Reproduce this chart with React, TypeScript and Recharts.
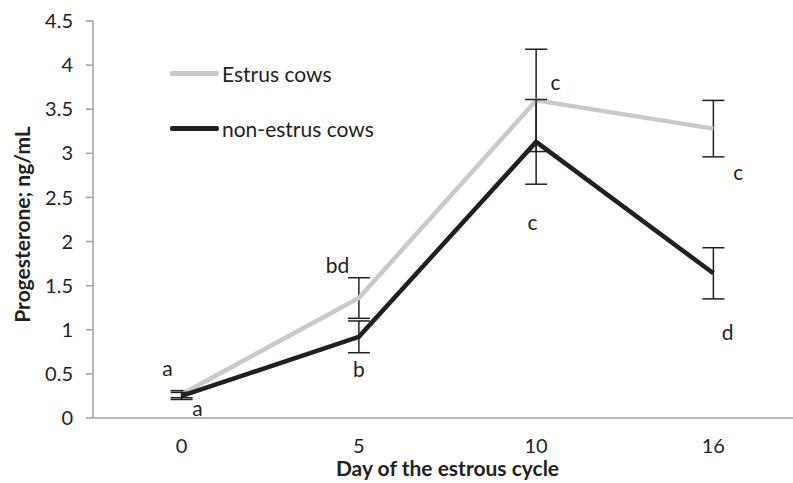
import React from 'react';
import { LineChart, Line, XAxis, YAxis, ErrorBar, ReferenceDot } from 'recharts';

const days = ['0', '5', '10', '16'];
const estrus = [0.27, 1.36, 3.6, 3.28];
const estrusErr = [0.04, 0.23, 0.58, 0.32];
const nonEstrus = [0.25, 0.92, 3.13, 1.64];
const nonEstrusErr = [0.04, 0.18, 0.48, 0.29];
const yTicks = [0, 0.5, 1, 1.5, 2, 2.5, 3, 3.5, 4, 4.5];
const bandEdges = [-0.5, 0.5, 1.5, 2.5, 3.5];
const centers = [0, 1, 2, 3];

// significance letters: [category index position, value level, text]
const letters: { x: number; y: number; t: string }[] = [
  { x: -0.08, y: 0.56, t: 'a' },
  { x: 0.09, y: 0.11, t: 'a' },
  { x: 0.88, y: 1.73, t: 'bd' },
  { x: 1.0, y: 0.55, t: 'b' },
  { x: 2.11, y: 3.8, t: 'c' },
  { x: 1.98, y: 2.21, t: 'c' },
  { x: 3.14, y: 2.78, t: 'c' },
  { x: 3.08, y: 0.97, t: 'd' },
];

const data = days.map((d, i) => ({
  idx: i,
  day: d,
  estrus: estrus[i],
  estrusErr: estrusErr[i],
  nonEstrus: nonEstrus[i],
  nonEstrusErr: nonEstrusErr[i],
}));

const FONT = 'Lato, "Open Sans", sans-serif';
const GRAY = '#C8C9CA';
const BLACK = '#231F20';
const AXIS = '#A0A0A0';

const LegendOverlay = () => (
  <div style={{ position: 'absolute', left: 170, top: 58, fontFamily: FONT, fontSize: 21, color: BLACK }}>
    <div style={{ display: 'flex', alignItems: 'center', height: 30 }}>
      <div style={{ width: 49, height: 5, background: GRAY, borderRadius: 2, marginRight: 3 }} />
      <span>Estrus cows</span>
    </div>
    <div style={{ display: 'flex', alignItems: 'center', height: 30, marginTop: 25 }}>
      <div style={{ width: 49, height: 5, background: BLACK, borderRadius: 2, marginRight: 3 }} />
      <span>non-estrus cows</span>
    </div>
  </div>
);

export default function App() {
  return (
    <div
      style={{
        position: 'absolute',
        left: 0,
        top: 0,
        width: 793,
        height: 483,
        overflow: 'hidden',
        background: '#fff',
      }}
    >
      <LineChart width={812} height={483} data={data} margin={{ top: 21, right: 10, left: 0, bottom: 0 }}>
        <XAxis
          xAxisId="a"
          dataKey="idx"
          type="number"
          domain={[-0.5, 3.5]}
          ticks={bandEdges}
          tick={false}
          tickSize={7}
          height={1}
          axisLine={{ stroke: AXIS, strokeWidth: 1.5 }}
          tickLine={{ stroke: AXIS, strokeWidth: 1.5 }}
          allowDataOverflow
        />
        <XAxis
          xAxisId="b"
          dataKey="idx"
          type="number"
          domain={[-0.5, 3.5]}
          ticks={centers}
          tickFormatter={(v: number) => days[v]}
          axisLine={false}
          tickLine={false}
          tickSize={0}
          tickMargin={20}
          height={64}
          tick={{ fontFamily: FONT, fontSize: 20, fill: BLACK }}
          label={{
            value: 'Day of the estrous cycle',
            position: 'insideBottom',
            offset: 7,
            style: { fontFamily: FONT, fontSize: 21, fontWeight: 700, fill: BLACK },
          }}
        />
        <YAxis
          type="number"
          domain={[0, 4.5]}
          ticks={yTicks}
          width={93}
          tickSize={7}
          tickMargin={13}
          axisLine={{ stroke: AXIS, strokeWidth: 1.5 }}
          tickLine={{ stroke: AXIS, strokeWidth: 1.5 }}
          tick={{ fontFamily: FONT, fontSize: 20, fill: BLACK }}
          label={{
            value: 'Progesterone; ng/mL',
            content: (props: any) => {
              const vb = props.viewBox;
              const x = vb.x + 21;
              const y = vb.y + vb.height / 2 + 5;
              return (
                <text
                  x={x}
                  y={y}
                  transform={`rotate(-90, ${x}, ${y})`}
                  textAnchor="middle"
                  dominantBaseline="central"
                  style={{ fontFamily: FONT, fontSize: 21, fontWeight: 700, fill: BLACK }}
                >
                  Progesterone; ng/mL
                </text>
              );
            },
          }}
        />
        <Line
          xAxisId="a"
          dataKey="estrus"
          name="Estrus cows"
          stroke={GRAY}
          strokeWidth={4.5}
          dot={false}
          isAnimationActive={false}
        >
          <ErrorBar dataKey="estrusErr" direction="y" width={11} stroke={BLACK} strokeWidth={1.5} />
        </Line>
        <Line
          xAxisId="a"
          dataKey="nonEstrus"
          name="non-estrus cows"
          stroke={BLACK}
          strokeWidth={4.5}
          dot={false}
          isAnimationActive={false}
        >
          <ErrorBar dataKey="nonEstrusErr" direction="y" width={11} stroke={BLACK} strokeWidth={1.5} />
        </Line>
        {letters.map((l, i) => (
          <ReferenceDot
            key={i}
            xAxisId="a"
            x={l.x}
            y={l.y}
            r={0}
            fill="none"
            stroke="none"
            ifOverflow="visible"
            label={{ value: l.t, position: 'center', style: { fontFamily: FONT, fontSize: 21, fill: BLACK } }}
          />
        ))}
      </LineChart>
      <LegendOverlay />
    </div>
  );
}
